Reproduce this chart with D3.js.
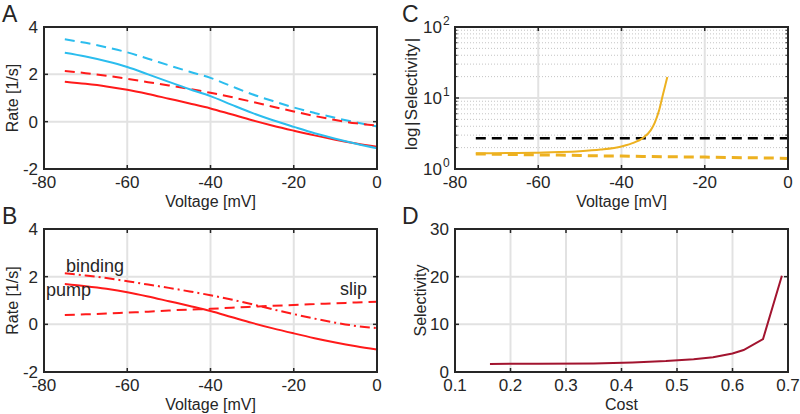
<!DOCTYPE html>
<html><head><meta charset="utf-8">
<script src="https://cdnjs.cloudflare.com/ajax/libs/d3/7.8.5/d3.min.js"></script>
<style>
html,body{margin:0;padding:0;background:#fff;}
svg text{font-family:"Liberation Sans",Arial,Helvetica,sans-serif;fill:#262626;}
</style></head>
<body><svg id="chart" width="800" height="414"></svg>
<script>
// ---------- data ----------
const voltage = [-75,-70,-65,-60,-55,-50,-45,-40,-35,-30,-25,-20,-15,-10,-5,0];
const cyanDashed = [3.48,3.33,3.14,2.93,2.66,2.38,2.11,1.85,1.50,1.16,0.87,0.60,0.37,0.16,-0.03,-0.20];
const cyanSolid  = [2.91,2.75,2.55,2.31,2.00,1.68,1.37,1.08,0.72,0.37,0.06,-0.22,-0.49,-0.72,-0.93,-1.12];
const redDashed  = [2.14,2.05,1.94,1.81,1.67,1.53,1.38,1.22,1.04,0.84,0.63,0.43,0.24,0.07,-0.07,-0.16];
const redSolid   = [1.69,1.60,1.49,1.35,1.17,0.97,0.77,0.56,0.31,0.06,-0.17,-0.38,-0.58,-0.76,-0.92,-1.06];
const slip       = [0.39,0.42,0.45,0.49,0.53,0.58,0.62,0.65,0.70,0.74,0.78,0.81,0.85,0.88,0.92,0.95];
const binding    = redDashed;
const pump       = redSolid;

const selVoltage = [-75,-70,-65,-60,-55,-50,-45,-40,-37,-35,-33,-32,-31,-30,-29.5,-29];
const selectivity = [1.66,1.67,1.68,1.70,1.73,1.78,1.88,2.08,2.35,2.70,3.50,4.50,6.60,11.5,15.0,19.8];
const selDashed  = [1.63,1.61,1.60,1.58,1.57,1.55,1.53,1.52,1.50,1.49,1.48,1.47,1.45,1.44,1.43,1.41];
const threshold  = 2.72;

const cost = [0.163,0.25,0.35,0.42,0.48,0.53,0.565,0.60,0.62,0.655,0.689];
const costSel = [1.7,1.72,1.8,2.0,2.3,2.7,3.1,3.9,4.6,6.9,20.2];

const xTicksV = [-80,-60,-40,-20,0];
const yTicksRate = [-2,0,2,4];
const yTicksLog = [1,10,100];
const xTicksCost = [0.1,0.2,0.3,0.4,0.5,0.6,0.7];
const yTicksSel = [0,10,20,30];

// ---------- styling ----------
const AX = "#262626", GRID = "#e2e2e2";
const CYAN = "#2bbdee", RED = "#ff1a1a", ORANGE = "#edb120", DARKRED = "#a2142f";
const svg = d3.select("#chart");

function panel(o){
  const g = svg.append("g");
  const {x0,x1,y0,y1} = o;
  const x = o.x, y = o.y;
  if (o.minor) {
    g.selectAll(".mg").data(o.minor).join("line")
      .attr("x1",x0).attr("x2",x1).attr("y1",d=>y(d)).attr("y2",d=>y(d))
      .attr("stroke","#c4c4c4").attr("stroke-width",1).attr("stroke-dasharray","1,2");
  }
  g.selectAll(".gx").data(o.xt).join("line")
    .attr("x1",d=>x(d)).attr("x2",d=>x(d)).attr("y1",y0).attr("y2",y1)
    .attr("stroke",GRID).attr("stroke-width",2);
  g.selectAll(".gy").data(o.yt).join("line")
    .attr("x1",x0).attr("x2",x1).attr("y1",d=>y(d)).attr("y2",d=>y(d))
    .attr("stroke",GRID).attr("stroke-width",2);
  o.lines.forEach(l=>{
    const line = d3.line().curve(l.curve||d3.curveLinear).x(d=>x(d[0])).y(d=>y(d[1]));
    g.append("path").datum(d3.zip(l.xs,l.ys)).attr("d",line)
      .attr("fill","none").attr("stroke",l.c).attr("stroke-width",l.w||2)
      .attr("stroke-dasharray",l.dash||null);
  });
  const tl = 4;
  o.xt.forEach(t=>{
    g.append("line").attr("x1",x(t)).attr("x2",x(t)).attr("y1",y1).attr("y2",y1-tl).attr("stroke",AX).attr("stroke-width",1.5);
    g.append("line").attr("x1",x(t)).attr("x2",x(t)).attr("y1",y0).attr("y2",y0+tl).attr("stroke",AX).attr("stroke-width",1.5);
  });
  o.yt.forEach(t=>{
    g.append("line").attr("x1",x0).attr("x2",x0+tl).attr("y1",y(t)).attr("y2",y(t)).attr("stroke",AX).attr("stroke-width",1.5);
    g.append("line").attr("x1",x1).attr("x2",x1-tl).attr("y1",y(t)).attr("y2",y(t)).attr("stroke",AX).attr("stroke-width",1.5);
  });
  if (o.minor) o.minor.forEach(t=>{
    g.append("line").attr("x1",x0).attr("x2",x0+2.5).attr("y1",y(t)).attr("y2",y(t)).attr("stroke",AX).attr("stroke-width",1);
    g.append("line").attr("x1",x1).attr("x2",x1-2.5).attr("y1",y(t)).attr("y2",y(t)).attr("stroke",AX).attr("stroke-width",1);
  });
  g.append("rect").attr("x",x0).attr("y",y0).attr("width",x1-x0).attr("height",y1-y0)
    .attr("fill","none").attr("stroke",AX).attr("stroke-width",2);
  g.selectAll(".xl").data(o.xt).join("text")
    .attr("x",d=>x(d)).attr("y",y1+19).attr("text-anchor","middle").attr("font-size",17)
    .text(d=>o.xfmt?o.xfmt(d):d);
  if (o.log) {
    o.yt.forEach(t=>{
      g.append("text").attr("x",x0-13).attr("y",y(t)+6).attr("text-anchor","end").attr("font-size",17).text("10");
      g.append("text").attr("x",x0-12).attr("y",y(t)-2).attr("font-size",12).text(Math.round(Math.log10(t)));
    });
  } else {
    g.selectAll(".yl").data(o.yt).join("text")
      .attr("x",x0-6).attr("y",d=>y(d)+6).attr("text-anchor","end").attr("font-size",17)
      .text(d=>d);
  }
  g.append("text").attr("x",(x0+x1)/2).attr("y",y1+38).attr("text-anchor","middle").attr("font-size",16).text(o.xlab);
  const yl = g.append("text").attr("transform",`translate(${o.ylx},${o.ylc||(y0+y1)/2}) rotate(-90)`)
    .attr("text-anchor","middle").attr("font-size",o.ylfs||16);
  if (Array.isArray(o.ylab)) {
    o.ylab.forEach(p=>yl.append("tspan").attr("dx",p[1]||0).text(p[0]));
  } else yl.text(o.ylab);
  g.append("text").attr("x",o.lx).attr("y",o.ly).attr("font-size",23).text(o.letter);
  return g;
}

// Panel A
const xA = d3.scaleLinear().domain([-80,0]).range([44,377]);
const yA = d3.scaleLinear().domain([-2,4]).range([169,27]);
panel({x0:44,x1:377,y0:27,y1:169,x:xA,y:yA,xt:xTicksV,yt:yTicksRate,
  xlab:"Voltage [mV]",ylab:"Rate [1/s]",ylx:18,letter:"A",lx:2,ly:22,
  lines:[
    {xs:voltage,ys:cyanDashed,c:CYAN,dash:"10,6",curve:d3.curveMonotoneX},
    {xs:voltage,ys:redDashed,c:RED,dash:"10,6",curve:d3.curveMonotoneX},
    {xs:voltage,ys:redSolid,c:RED,curve:d3.curveMonotoneX},
    {xs:voltage,ys:cyanSolid,c:CYAN,curve:d3.curveMonotoneX}
  ]});

// Panel B
const xB = d3.scaleLinear().domain([-80,0]).range([44,377]);
const yB = d3.scaleLinear().domain([-2,4]).range([372,229]);
const gB = panel({x0:44,x1:377,y0:229,y1:372,x:xB,y:yB,xt:xTicksV,yt:yTicksRate,
  xlab:"Voltage [mV]",ylab:"Rate [1/s]",ylx:18,letter:"B",lx:2,ly:224,
  lines:[
    {xs:voltage,ys:binding,c:RED,dash:"10,4,2,4",curve:d3.curveMonotoneX},
    {xs:voltage,ys:slip,c:RED,dash:"10,6",curve:d3.curveMonotoneX},
    {xs:voltage,ys:pump,c:RED,curve:d3.curveMonotoneX}
  ]});
gB.append("text").attr("x",66).attr("y",272).attr("font-size",18).text("binding");
gB.append("text").attr("x",46).attr("y",296).attr("font-size",18).text("pump");
gB.append("text").attr("x",340).attr("y",295).attr("font-size",18).text("slip");

// Panel C
const xC = d3.scaleLinear().domain([-80,0]).range([455,788]);
const yC = d3.scaleLog().domain([1,100]).range([169,27]);
const minorC = [2,3,4,5,6,7,8,9,20,30,40,50,60,70,80,90];
panel({x0:455,x1:788,y0:27,y1:169,x:xC,y:yC,xt:xTicksV,yt:yTicksLog,log:true,minor:minorC,
  xlab:"Voltage [mV]",ylab:[["log"],["|",1.5],["Selectivity",1.5],["|",1.5]],ylfs:17,ylc:94,ylx:417,letter:"C",lx:402,ly:22,
  lines:[
    {xs:[-75,0],ys:[threshold,threshold],c:"#000",dash:"10,6",w:2.5},
    {xs:voltage,ys:selDashed,c:ORANGE,dash:"10,6",w:3},
    {xs:selVoltage,ys:selectivity,c:ORANGE,curve:d3.curveMonotoneX}
  ]});

// Panel D
const xD = d3.scaleLinear().domain([0.1,0.7]).range([455,788]);
const yD = d3.scaleLinear().domain([0,30]).range([372,229]);
panel({x0:455,x1:788,y0:229,y1:372,x:xD,y:yD,xt:xTicksCost,yt:yTicksSel,xfmt:d3.format(".1f"),
  xlab:"Cost",ylab:"Selectivity",ylx:426,letter:"D",lx:402,ly:224,
  lines:[{xs:cost,ys:costSel,c:DARKRED}]});
</script></body></html>
